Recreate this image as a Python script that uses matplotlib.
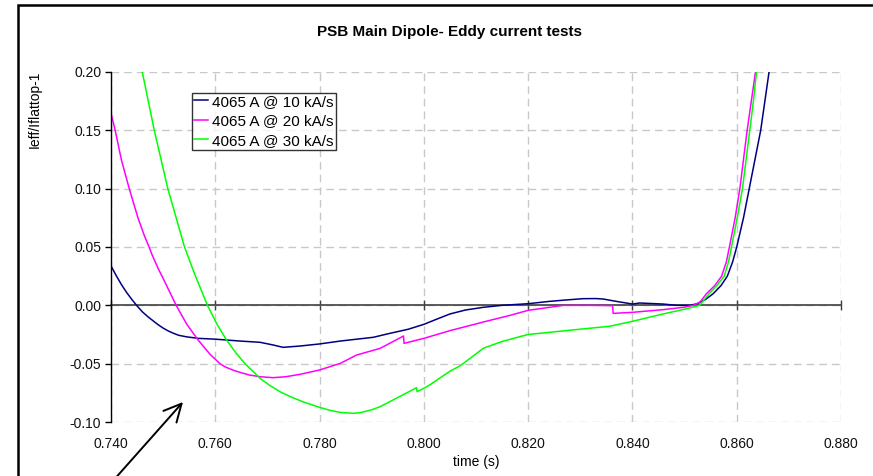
import matplotlib
matplotlib.use("Agg")
import matplotlib.pyplot as plt
from matplotlib.patches import Rectangle
from matplotlib.ticker import FormatStrFormatter

plt.rcParams['font.family'] = ['Liberation Sans', 'DejaVu Sans']
plt.rcParams['axes.unicode_minus'] = False

title = "PSB Main Dipole- Eddy current tests"
ylabel = "Ieff/Iflattop-1"
xlabel = "time (s)"
labels = ["4065 A @ 10 kA/s", "4065 A @ 20 kA/s", "4065 A @ 30 kA/s"]
colors = ["#000080", "#FF00FF", "#00FF00"]

x_ticks = [0.740, 0.760, 0.780, 0.800, 0.820, 0.840, 0.860, 0.880]
y_ticks = [-0.10, -0.05, 0.00, 0.05, 0.10, 0.15, 0.20]

t_10 = [0.7400, 0.7410, 0.7420, 0.7430, 0.7440, 0.7450, 0.7460, 0.7470, 0.7480,
        0.7490, 0.7500, 0.7510, 0.7520, 0.7530, 0.7545, 0.7567, 0.7600, 0.7647,
        0.7686, 0.7711, 0.7730, 0.7762, 0.7800, 0.7840, 0.7903, 0.7935, 0.7970,
        0.8000, 0.8025, 0.8050, 0.8080, 0.8114, 0.8150, 0.8200, 0.8241, 0.8270,
        0.8305, 0.8330, 0.8344, 0.8369, 0.8400, 0.8414, 0.8459, 0.8485, 0.8511,
        0.8525, 0.8540, 0.8555, 0.8570, 0.8582, 0.8592, 0.8600, 0.8613, 0.8624,
        0.8635, 0.8646, 0.8654, 0.8662]
v_10 = [0.0338, 0.0255, 0.0178, 0.0110, 0.0050, -0.0005, -0.0055, -0.0095, -0.0130,
        -0.0165, -0.0195, -0.0220, -0.0240, -0.0257, -0.0270, -0.0283, -0.0290, -0.0306,
        -0.0317, -0.0340, -0.0360, -0.0349, -0.0331, -0.0306, -0.0274, -0.0240, -0.0205,
        -0.0163, -0.0118, -0.0074, -0.0040, -0.0017, 0.0000, 0.0014, 0.0034, 0.0045,
        0.0057, 0.0058, 0.0054, 0.0034, 0.0011, 0.0020, 0.0011, 0.0000, 0.0000,
        0.0015, 0.0050, 0.0100, 0.0170, 0.0250, 0.0370, 0.0500, 0.0750, 0.1000,
        0.1250, 0.1500, 0.1750, 0.2000]

t_20 = [0.7400, 0.7408, 0.7420, 0.7435, 0.7452, 0.7464, 0.7473, 0.7479, 0.7490,
        0.7500, 0.7512, 0.7525, 0.7545, 0.7567, 0.7590, 0.7609, 0.7620, 0.7635,
        0.7650, 0.7665, 0.7686, 0.7711, 0.7735, 0.7762, 0.7800, 0.7840, 0.7871,
        0.7916, 0.7961, 0.7962, 0.8000, 0.8050, 0.8114, 0.8165, 0.8200, 0.8268,
        0.8319, 0.8362, 0.8363, 0.8400, 0.8459, 0.8498, 0.8517, 0.8530, 0.8542,
        0.8558, 0.8571, 0.8580, 0.8586, 0.8597, 0.8606, 0.8613, 0.8620, 0.8628,
        0.8636]
v_20 = [0.1646, 0.1500, 0.1246, 0.1000, 0.0746, 0.0597, 0.0500, 0.0431, 0.0320,
        0.0230, 0.0120, 0.0000, -0.0160, -0.0297, -0.0420, -0.0500, -0.0530, -0.0557,
        -0.0578, -0.0597, -0.0612, -0.0620, -0.0612, -0.0592, -0.0554, -0.0497, -0.0426,
        -0.0369, -0.0263, -0.0326, -0.0283, -0.0217, -0.0143, -0.0086, -0.0043, 0.0000,
        0.0000, -0.0003, -0.0069, -0.0060, -0.0037, -0.0017, 0.0000, 0.0030, 0.0100,
        0.0170, 0.0250, 0.0370, 0.0500, 0.0750, 0.1000, 0.1250, 0.1500, 0.1750,
        0.2000]

t_30 = [0.7460, 0.7483, 0.7509, 0.7541, 0.7562, 0.7585, 0.7603, 0.7622, 0.7640,
        0.7657, 0.7686, 0.7705, 0.7724, 0.7745, 0.7770, 0.7800, 0.7820, 0.7840,
        0.7865, 0.7880, 0.7900, 0.7916, 0.7950, 0.7986, 0.7987, 0.8000, 0.8012,
        0.8030, 0.8050, 0.8069, 0.8090, 0.8114, 0.8150, 0.8187, 0.8200, 0.8274,
        0.8357, 0.8400, 0.8459, 0.8511, 0.8529, 0.8538, 0.8547, 0.8562, 0.8576,
        0.8584, 0.8590, 0.8601, 0.8611, 0.8618, 0.8625, 0.8632, 0.8638]
v_30 = [0.2000, 0.1500, 0.1000, 0.0500, 0.0250, 0.0000, -0.0160, -0.0300, -0.0410,
        -0.0500, -0.0626, -0.0688, -0.0740, -0.0785, -0.0830, -0.0874, -0.0900, -0.0918,
        -0.0926, -0.0918, -0.0895, -0.0869, -0.0790, -0.0706, -0.0740, -0.0711, -0.0680,
        -0.0625, -0.0565, -0.0520, -0.0450, -0.0368, -0.0310, -0.0265, -0.0250, -0.0216,
        -0.0179, -0.0137, -0.0074, -0.0022, 0.0000, 0.0050, 0.0100, 0.0170, 0.0250,
        0.0370, 0.0500, 0.0750, 0.1000, 0.1250, 0.1500, 0.1750, 0.2000]

series = [(t_10, v_10), (t_20, v_20), (t_30, v_30)]

W, H = 873, 476
fig = plt.figure(figsize=(W / 100, H / 100), dpi=100)
fig.patch.set_facecolor("white")
ax = fig.add_axes([111 / W, 1 - 422 / H, (841 - 111) / W, (422 - 72) / H])

for (t, v), c, lab in zip(series, colors, labels):
    ax.plot(t, v, color=c, lw=1.1, label=lab)

ax.set_xlim(0.74, 0.88)
ax.set_ylim(-0.10, 0.20)
ax.set_xticks(x_ticks)
ax.set_yticks(y_ticks)
ax.yaxis.set_major_formatter(FormatStrFormatter('%.2f'))

ax.grid(True, color="#c8c8c8", lw=1.0, linestyle=(0, (5.5, 3.6)))
ax.set_axisbelow(True)
for s in ("top", "right"):
    ax.spines[s].set_visible(False)
ax.spines["left"].set_color("black")
ax.spines["left"].set_linewidth(1.0)
ax.spines["bottom"].set_position(("data", 0))
ax.spines["bottom"].set_color("#404040")
ax.spines["bottom"].set_linewidth(1.2)
ax.spines["bottom"].set_zorder(1.5)

ax.tick_params(axis="x", direction="inout", length=7, width=1, color="#404040",
               labelbottom=False)
ax.tick_params(axis="y", direction="out", length=4, width=1, pad=3,
               labelsize=10, labelcolor="#111111")

sec = ax.secondary_xaxis("bottom")
sec.set_xticks(x_ticks)
sec.xaxis.set_major_formatter(FormatStrFormatter('%.3f'))
sec.tick_params(length=0, pad=11, labelsize=10, labelcolor="#111111")
sec.spines["bottom"].set_visible(False)
sec.set_xlabel(xlabel, fontsize=10, labelpad=3)

leg = ax.legend(loc="upper left", bbox_to_anchor=((192 - 111) / 730, (422 - 93) / 350),
                fontsize=11, frameon=True, fancybox=False, edgecolor="black",
                handlelength=0.95, handletextpad=0.25, borderpad=0.12,
                labelspacing=0.36, borderaxespad=0.0)
leg.get_frame().set_linewidth(1.0)

fig.text(450 / W, 1 - 32 / H, title, ha="center", va="center",
         fontsize=11, fontweight="bold")
fig.text(35 / W, 1 - 109 / H, ylabel, ha="center", va="center",
         rotation=90, fontsize=10)

frame = Rectangle((18 / W, -0.2), 1.2, (1 - 5 / H) + 0.2,
                  transform=fig.transFigure, fill=False, edgecolor="black",
                  lw=1.8, clip_on=False)
fig.patches.append(frame)

fig.add_artist(plt.Annotation("", xy=(183 / W, 1 - 402 / H),
                              xytext=(112 / W, 1 - 482 / H),
                              xycoords="figure fraction", textcoords="figure fraction",
                              arrowprops=dict(arrowstyle="->,head_length=0.9,head_width=0.45",
                                              lw=1.4, color="black", mutation_scale=14,
                                              shrinkA=0, shrinkB=0),
                              annotation_clip=False))

fig.savefig("out.png", dpi=100)
